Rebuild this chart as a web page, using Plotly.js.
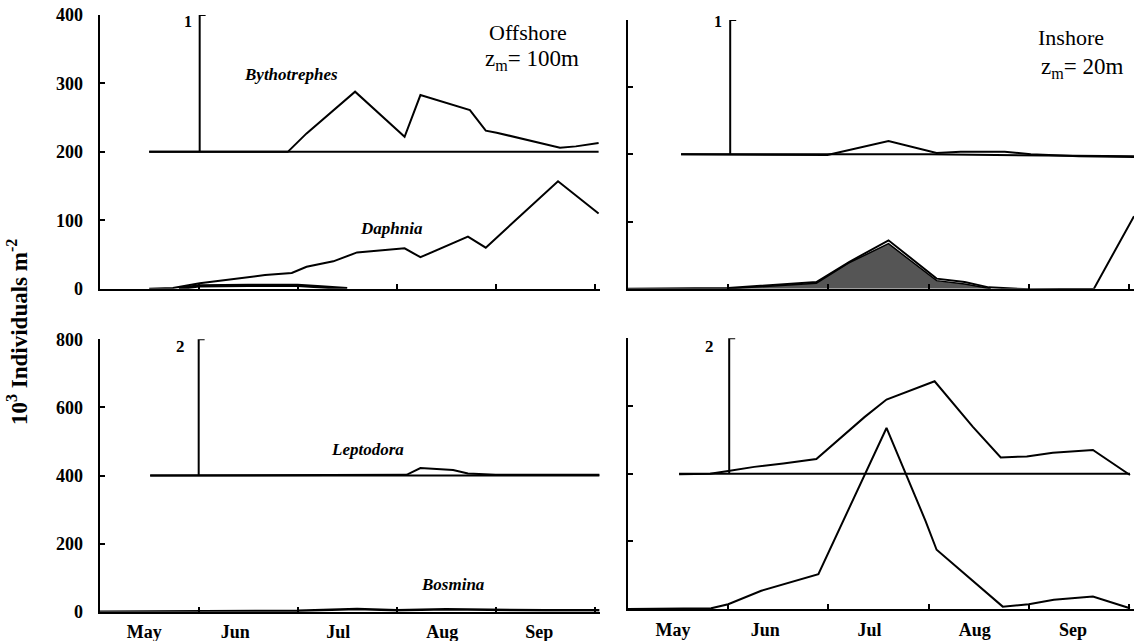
<!DOCTYPE html>
<html>
<head>
<meta charset="utf-8">
<script src="https://cdn.plot.ly/plotly-3.0.1.min.js"></script>
<style>html,body{margin:0;padding:0;background:#fff;}#chart{width:1139px;height:641px;}</style>
</head>
<body>
<div id="chart"></div>
<script>
// Month scale: 0 = start of May, 1 = start of Jun, ... 5 = end of Sep
const monthLabels = ['May', 'Jun', 'Jul', 'Aug', 'Sep'];
const monthLabelPos = [0.45, 1.37, 2.41, 3.46, 4.44];
const monthBounds = [1, 2, 3, 4, 5];

// ---- Top-left: Offshore (zm = 100 m), scale 1 ----
const tlBaseX = [0.50, 5.04];
const tlBaseY = [200, 200];
const tlBythoX = [0.50, 1.90, 2.09, 2.58, 3.08, 3.24, 3.74, 3.90, 4.01, 4.19, 4.65, 4.81, 5.04];
const tlBythoY = [200, 200, 227, 288, 222, 283, 261, 231, 228, 222, 206, 208, 213];
const tlDaphX = [0.50, 0.74, 1.01, 1.40, 1.67, 1.94, 2.09, 2.36, 2.60, 3.08, 3.24, 3.72, 3.90, 4.63, 5.04];
const tlDaphY = [0, 1, 8, 15, 20, 23, 32, 40, 53, 59, 46, 76, 60, 157, 110];
const tlDarkX = [0.80, 1.00, 1.50, 2.00, 2.20, 2.50];
const tlDarkY = [0, 4, 5, 5, 3, 0];
const tlBarX = [1.01, 1.01, 1.07];
const tlBarY = [200, 400, 400];

// ---- Top-right: Inshore (zm = 20 m), scale 1 ----
const trBaseX = [0.53, 3.00, 5.05];
const trBaseY = [200, 200, 197];
const trBythoX = [0.53, 1.99, 2.60, 3.08, 3.32, 3.76, 4.02, 4.50, 5.05];
const trBythoY = [200, 199, 220, 202, 204, 204, 200, 197, 196];
const trDaphX = [0, 1.00, 1.88, 2.21, 2.60, 3.08, 3.36, 3.60, 4.02, 4.65, 5.05];
const trDaphY = [0, 1, 10, 40, 72, 15, 10, 2, -1, 0, 108];
const trFillX = [1.00, 1.50, 1.88, 2.20, 2.60, 3.08, 3.36, 3.62];
const trFillY = [0, 5, 8, 38, 67, 12, 7, 0];
const trBarX = [1.02, 1.02, 1.08];
const trBarY = [200, 400, 400];

// ---- Bottom-left: Offshore, scale 2 ----
const blBaseX = [0.51, 5.05];
const blBaseY = [400, 400];
const blLeptoX = [0.51, 3.10, 3.24, 3.57, 3.72, 4.00, 5.05];
const blLeptoY = [400, 402, 422, 416, 406, 402, 402];
const blBosX = [0, 1.0, 1.5, 2.0, 2.6, 3.0, 3.5, 4.0, 4.5, 5.05];
const blBosY = [0, 2, 3, 3, 8, 4, 7, 5, 4, 4];
const blBarX = [1.00, 1.00, 1.06];
const blBarY = [400, 800, 800];

// ---- Bottom-right: Inshore, scale 2 ----
const brBaseX = [0.51, 5.01];
const brBaseY = [400, 400];
const brLeptoX = [0.51, 0.82, 1.00, 1.26, 1.55, 1.88, 2.36, 2.58, 3.06, 3.44, 3.72, 3.98, 4.24, 4.64, 5.01];
const brLeptoY = [398, 400, 408, 420, 430, 443, 567, 619, 673, 539, 448, 451, 462, 470, 396];
const brBosX = [0, 0.83, 1.00, 1.33, 1.90, 2.58, 2.97, 3.08, 3.74, 4.00, 4.25, 4.64, 5.01];
const brBosY = [0, 2, 14, 54, 103, 535, 260, 175, 7, 14, 27, 37, 2];
const brBarX = [1.01, 1.01, 1.07];
const brBarY = [400, 800, 800];

const topTicks = [0, 100, 200, 300, 400];
const botTicks = [0, 200, 400, 600, 800];

const LW = 2;
function line(x, y, xa, ya, w, extra) {
  return Object.assign({
    x: x, y: y, xaxis: xa, yaxis: ya, type: 'scatter', mode: 'lines',
    line: {color: '#000', width: w || LW}, hoverinfo: 'skip', showlegend: false
  }, extra || {});
}

const data = [
  line(tlBaseX, tlBaseY, 'x', 'y'),
  line(tlBythoX, tlBythoY, 'x', 'y'),
  line(tlDarkX, tlDarkY, 'x', 'y', 3.2),
  line(tlDaphX, tlDaphY, 'x', 'y'),
  line(tlBarX, tlBarY, 'x', 'y'),

  line(trBaseX, trBaseY, 'x2', 'y2'),
  line(trBythoX, trBythoY, 'x2', 'y2'),
  line(trFillX, trFillY, 'x2', 'y2', 1.5, {fill: 'tozeroy', fillcolor: '#555555'}),
  line(trDaphX, trDaphY, 'x2', 'y2'),
  line(trBarX, trBarY, 'x2', 'y2'),

  line(blBaseX, blBaseY, 'x3', 'y3'),
  line(blLeptoX, blLeptoY, 'x3', 'y3'),
  line(blBosX, blBosY, 'x3', 'y3', 2.5),
  line(blBarX, blBarY, 'x3', 'y3'),

  line(brBaseX, brBaseY, 'x4', 'y4'),
  line(brLeptoX, brLeptoY, 'x4', 'y4'),
  line(brBosX, brBosY, 'x4', 'y4'),
  line(brBarX, brBarY, 'x4', 'y4')
];

const W = 1139, H = 641;
const serif = 'Liberation Serif, Times New Roman, serif';
const tickFont = {family: serif, size: 18, color: '#000', weight: 'bold'};

function xAxis(left, right, anchor, showLabels) {
  return {
    domain: [left / W, right / W], range: [0, 5.05], anchor: anchor,
    showline: true, linecolor: '#000', linewidth: 2, showgrid: false, zeroline: false,
    tickmode: 'array', tickvals: monthLabelPos, ticktext: monthLabels,
    showticklabels: showLabels, ticks: '', tickfont: tickFont, ticklabelstandoff: 3,
    minor: {tickmode: 'array', tickvals: monthBounds, ticks: 'inside', ticklen: 5, tickwidth: 2, tickcolor: '#000', showgrid: false},
    fixedrange: true
  };
}
function yAxis(bottomPx, topPx, anchor, range, vals, showLabels) {
  return {
    domain: [1 - bottomPx / H, 1 - topPx / H], range: range, anchor: anchor,
    showline: true, linecolor: '#000', linewidth: 2, showgrid: false, zeroline: false,
    tickmode: 'array', tickvals: vals, ticktext: vals.map(String),
    showticklabels: showLabels, ticks: 'inside', ticklen: 5, tickwidth: 2, tickcolor: '#000',
    tickfont: tickFont, ticklabelstandoff: 11, fixedrange: true
  };
}

const annFont = {family: serif, size: 22, color: '#000'};
const spFont = {family: serif, size: 17, color: '#000', style: 'italic', weight: 'bold'};
function ann(text, xpx, ypx, font, extra) {
  return Object.assign({
    text: text, x: xpx / W, y: 1 - ypx / H, xref: 'paper', yref: 'paper',
    showarrow: false, font: font, xanchor: 'center', yanchor: 'middle'
  }, extra || {});
}

const layout = {
  width: W, height: H,
  margin: {l: 0, r: 0, t: 0, b: 0},
  paper_bgcolor: '#fff', plot_bgcolor: 'rgba(0,0,0,0)',
  showlegend: false,
  xaxis: xAxis(99.7, 599.6, 'y', false),
  yaxis: yAxis(288.7, 15, 'x', [0, 400], topTicks, true),
  xaxis2: xAxis(628, 1134, 'y2', false),
  yaxis2: yAxis(288.7, 20, 'x2', [0, 400], topTicks, false),
  xaxis3: xAxis(99.7, 599.6, 'y3', true),
  yaxis3: yAxis(611.7, 339.3, 'x3', [0, 800], botTicks, true),
  xaxis4: xAxis(628, 1134, 'y4', true),
  yaxis4: yAxis(609, 338.3, 'x4', [0, 800], botTicks, false),
  annotations: [
    ann('10<sup>3</sup> Individuals m<sup>-2</sup>', 17, 332, {family: serif, size: 23, color: '#000', weight: 'bold'}, {textangle: -90}),
    ann('Offshore', 528, 32, annFont),
    ann('z<sub>m</sub>= 100m', 532, 60, {family: serif, size: 23, color: '#000'}),
    ann('Inshore', 1071, 37, annFont),
    ann('z<sub>m</sub>= 20m', 1082, 68, {family: serif, size: 23, color: '#000'}),
    ann('Bythotrephes', 291, 74, spFont),
    ann('Daphnia', 391, 228, spFont),
    ann('Leptodora', 367, 449, spFont),
    ann('Bosmina', 453, 584, spFont),
    ann('1', 188, 21, {family: serif, size: 16, color: '#000', weight: 'bold'}),
    ann('1', 718, 21, {family: serif, size: 16, color: '#000', weight: 'bold'}),
    ann('2', 180, 346, {family: serif, size: 17, color: '#000', weight: 'bold'}),
    ann('2', 709, 346, {family: serif, size: 17, color: '#000', weight: 'bold'})
  ]
};

Plotly.newPlot('chart', data, layout, {displayModeBar: false, staticPlot: true});
</script>
</body>
</html>
